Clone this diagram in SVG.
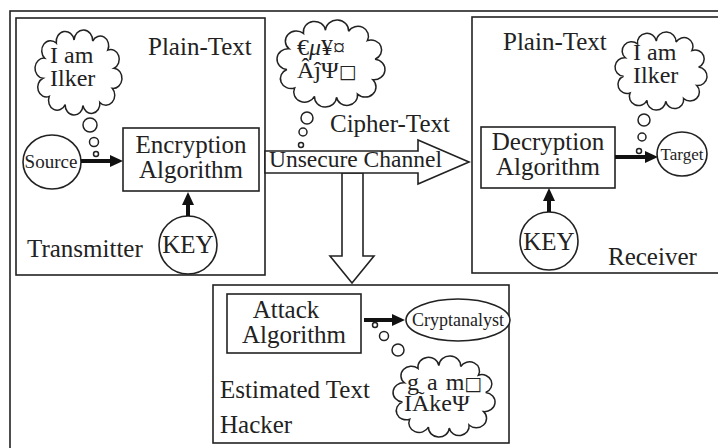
<svg xmlns="http://www.w3.org/2000/svg" xmlns:xlink="http://www.w3.org/1999/xlink" width="718" height="448" viewBox="0 0 718 448">
<style>
text{font-family:"Liberation Serif","Times New Roman",serif;fill:#222;font-size:25px}
.c{text-anchor:middle}
.box{fill:none;stroke:#222;stroke-width:1.6}
.nd{fill:#fff;stroke:#222;stroke-width:1.6}
.bub{fill:#fff;stroke:#222;stroke-width:1.5}
.arr{stroke:#111;stroke-width:4;fill:none}
.big{fill:#fff;stroke:#222;stroke-width:1.6;stroke-linejoin:miter}
.sm{font-size:19px}
.cl{font-size:24px}
.sq{font-family:"DejaVu Sans",sans-serif;font-size:19px}
</style>
<defs>
<path id="cloud" vector-effect="non-scaling-stroke" d="M90,38 A10.05,10.05 0 0 1 88,58 A9.9,9.9 0 0 1 74,72 A9.62,9.62 0 0 1 55,75 A10.01,10.01 0 0 1 35,74 A9.85,9.85 0 0 1 17,66 A9.66,9.66 0 0 1 10,48 A10.05,10.05 0 0 1 12,28 A9.92,9.92 0 0 1 25,13 A10.11,10.11 0 0 1 45,10 A10.51,10.51 0 0 1 66,11 A9.62,9.62 0 0 1 83,20 A9.66,9.66 0 0 1 90,38 Z"/>
<marker id="ah" viewBox="0 0 13 12" refX="0" refY="6" markerWidth="13" markerHeight="12" markerUnits="userSpaceOnUse" orient="auto">
<path d="M0,0 L13,6 L0,12 Z" fill="#111"/>
</marker>
</defs>
<rect width="718" height="448" fill="#fff"/>
<rect id="frame" x="10" y="11" width="730" height="460" class="box"/>

<g id="transmitter">
<rect x="16" y="18" width="249" height="257" class="box"/>
<text x="27" y="257">Transmitter</text>
<text x="148" y="55">Plain-Text</text>
</g>
<g id="plaintext-cloud-tx">
<use xlink:href="#cloud" class="bub" transform="translate(34.1,30) scale(0.888,1.006)"/>
<text x="50" y="63" class="cl">I am</text>
<text x="50" y="86" class="cl">Ilker</text>
<circle cx="90" cy="125" r="7" class="bub"/>
<circle cx="94" cy="142" r="4.5" class="bub"/>
<circle cx="96" cy="154" r="2.5" class="bub"/>
</g>
<g id="source">
<ellipse cx="52" cy="162" rx="29" ry="27" class="nd"/>
<text x="51" y="168" class="c sm">Source</text>
</g>
<g id="encryption">
<rect x="123" y="128" width="136" height="63" class="nd"/>
<text x="191" y="153" class="c">Encryption</text>
<text x="191" y="178" class="c">Algorithm</text>
</g>
<g id="key-tx">
<circle cx="188" cy="245" r="29" class="nd"/>
<text x="188" y="253" class="c">KEY</text>
</g>

<g id="channel">
<polygon class="big" points="342,173 342,256 330,256 352,283 374,256 363,256 363,173"/>
<polygon class="big" points="265,151 418,151 418,140 469,162 418,184 418,173 265,173"/>
<text x="269" y="167" style="font-size:23.5px">Unsecure Channel</text>
</g>
<g id="ciphertext-cloud">
<use xlink:href="#cloud" class="bub" transform="translate(275.9,20) scale(1.102,1.03)"/>
<text x="297" y="55" style="font-size:24px">€<tspan font-style="italic">μ</tspan>¥¤</text>
<text x="297" y="78" style="font-size:24px">ÂĵΨ<tspan class="sq">□</tspan></text>
<circle cx="307" cy="118" r="6" class="bub"/>
<circle cx="303" cy="132" r="4" class="bub"/>
<circle cx="301" cy="145" r="2.5" class="bub"/>
<text x="330" y="132">Cipher-Text</text>
</g>

<g id="receiver">
<rect x="472" y="17" width="260" height="256" class="box"/>
<text x="503" y="50">Plain-Text</text>
<text x="608" y="265">Receiver</text>
</g>
<g id="plaintext-cloud-rx">
<use xlink:href="#cloud" class="bub" transform="translate(614.1,32) scale(0.939,0.923)"/>
<text x="633" y="60" class="cl">I am</text>
<text x="633" y="83" class="cl">Ilker</text>
<circle cx="644" cy="120" r="6" class="bub"/>
<circle cx="642" cy="137" r="4" class="bub"/>
<circle cx="639" cy="151" r="2.5" class="bub"/>
</g>
<g id="decryption">
<rect x="481" y="127" width="134" height="61" class="nd"/>
<text x="548" y="150" class="c">Decryption</text>
<text x="548" y="175" class="c">Algorithm</text>
</g>
<g id="target">
<ellipse cx="682" cy="154" rx="25" ry="22" class="nd"/>
<text x="682" y="160" class="c" style="font-size:17px">Target</text>
</g>
<g id="key-rx">
<circle cx="549" cy="241" r="29" class="nd"/>
<text x="549" y="250" class="c">KEY</text>
</g>

<g id="hacker">
<rect x="213" y="285" width="296" height="158" class="box"/>
<text x="220" y="398">Estimated Text</text>
<text x="220" y="433">Hacker</text>
</g>
<g id="attack">
<rect x="227" y="294" width="134" height="59" class="nd"/>
<text x="286" y="318" class="c">Attack</text>
<text x="294" y="343" class="c">Algorithm</text>
</g>
<g id="cryptanalyst">
<ellipse cx="458" cy="320" rx="52" ry="21" class="nd"/>
<text x="458" y="326" class="c" style="font-size:18px">Cryptanalyst</text>
</g>
<g id="estimated-cloud">
<circle cx="375" cy="325" r="2.5" class="bub"/>
<circle cx="384" cy="336" r="4.5" class="bub"/>
<circle cx="398" cy="350" r="6" class="bub"/>
<use xlink:href="#cloud" class="bub" transform="translate(392,356) scale(1.041,0.959)"/>
<text x="407" y="390" class="cl" style="word-spacing:2px">g a m<tspan class="sq">□</tspan></text>
<text x="404" y="411" class="cl">IÃkeΨ</text>
</g>

<g id="connectors">
<line x1="81" y1="161" x2="110" y2="161" class="arr" marker-end="url(#ah)"/>
<line x1="188" y1="216" x2="188" y2="205" class="arr" marker-end="url(#ah)"/>
<line x1="615" y1="157" x2="645" y2="157" class="arr" marker-end="url(#ah)"/>
<line x1="549" y1="212" x2="549" y2="201" class="arr" marker-end="url(#ah)"/>
<line x1="364" y1="320" x2="392" y2="320" class="arr" marker-end="url(#ah)"/>
</g>
</svg>
